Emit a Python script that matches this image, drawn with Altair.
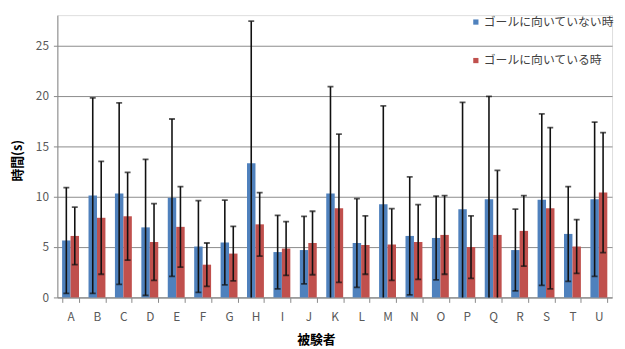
import altair as alt
import pandas as pd

subjects = list("ABCDEFGHIJKLMNOPQRSTU")
series_names = ["ゴールに向いていない時", "ゴールに向いている時"]
not_facing_mean = [5.65, 10.1, 10.3, 6.95, 9.9, 5.05, 5.45, 13.3, 4.5, 4.7, 10.3, 5.4, 9.25, 6.1, 5.9, 8.75, 9.75, 4.7, 9.7, 6.3, 9.75]
not_facing_sd = [5.25, 9.7, 9.0, 6.75, 7.8, 4.55, 4.2, 14.1, 3.65, 3.35, 10.6, 4.4, 9.75, 5.85, 4.15, 10.6, 10.2, 4.05, 8.5, 4.7, 7.65]
facing_mean = [6.1, 7.9, 8.05, 5.5, 7.0, 3.25, 4.35, 7.25, 4.85, 5.4, 8.85, 5.2, 5.25, 5.5, 6.2, 5.0, 6.2, 6.6, 8.85, 5.05, 10.4]
facing_sd = [2.85, 5.6, 4.35, 3.8, 4.0, 2.15, 2.7, 3.15, 2.67, 3.15, 7.35, 2.9, 3.55, 3.7, 3.9, 3.1, 6.4, 3.5, 8.0, 2.67, 5.95]

rows = []
for i, s in enumerate(subjects):
    for name, m, sd in ((series_names[0], not_facing_mean, not_facing_sd),
                        (series_names[1], facing_mean, facing_sd)):
        rows.append({"subject": s, "series": name, "mean": m[i],
                     "lo": m[i] - sd[i], "hi": m[i] + sd[i]})
df = pd.DataFrame(rows)

FONT = "Noto Sans CJK JP"
colors = ["#4F81BD", "#C0504D"]

x = alt.X("subject:N", sort=subjects,
          scale=alt.Scale(paddingInner=0.36, paddingOuter=0.18),
          axis=alt.Axis(title="被験者", labelAngle=0, tickBand="extent",
                        tickSize=5, tickColor="#888888", domainColor="#888888",
                        labelPadding=9, labelFontSize=12, labelColor="#595959",
                        labelFont=FONT, titleFont=FONT, titleFontSize=13,
                        titleFontWeight="bold", titleColor="#000000",
                        titleX=262, titleY=43, titleBaseline="middle",
                        grid=False))
xoff = alt.XOffset("series:N", sort=series_names)
yscale = alt.Scale(domain=[0, 28], nice=False)

bars = alt.Chart(df).mark_bar().encode(
    x=x,
    xOffset=xoff,
    y=alt.Y("mean:Q", scale=yscale,
            axis=alt.Axis(title="時間(s)", values=[0, 5, 10, 15, 20, 25],
                          grid=True, gridColor="#8a8a8a", gridWidth=1,
                          domainColor="#888888", tickColor="#888888", tickSize=4,
                          labelPadding=5, labelFontSize=12, labelColor="#595959",
                          labelFont=FONT, titleFont=FONT, titleFontSize=13,
                          titleFontWeight="bold", titleColor="#000000",
                          titleX=-40, titleY=147, titleBaseline="middle")),
    color=alt.Color("series:N", sort=series_names,
                    scale=alt.Scale(domain=series_names, range=colors),
                    legend=alt.Legend(title=None, orient="none", legendX=418, legendY=1,
                                      symbolType="square", symbolSize=28,
                                      symbolStrokeWidth=0, labelFontSize=12,
                                      labelColor="#404040", labelFont=FONT,
                                      labelLimit=400, rowPadding=27, labelOffset=2)),
)

rules = alt.Chart(df).mark_rule(color="#111111", strokeWidth=1.6, clip=True).encode(
    x=alt.X("subject:N", sort=subjects),
    xOffset=xoff,
    y=alt.Y("lo:Q", scale=yscale),
    y2="hi:Q",
)
caps_hi = alt.Chart(df).mark_tick(color="#111111", size=6, thickness=1.8, clip=True).encode(
    x=alt.X("subject:N", sort=subjects),
    xOffset=xoff,
    y=alt.Y("hi:Q", scale=yscale),
)
caps_lo = alt.Chart(df).mark_tick(color="#111111", size=6, thickness=1.8, clip=True).encode(
    x=alt.X("subject:N", sort=subjects),
    xOffset=xoff,
    y=alt.Y("lo:Q", scale=yscale),
)

chart = alt.layer(bars, rules, caps_hi, caps_lo).properties(
    width=562, height=286,
    autosize=alt.AutoSizeParams(type="none"),
    padding={"left": 50, "top": 5, "right": 5, "bottom": 50},
).configure_view(stroke=None).configure(background="white")

chart.save("out.html", embed_options={"renderer": "svg", "actions": False})
